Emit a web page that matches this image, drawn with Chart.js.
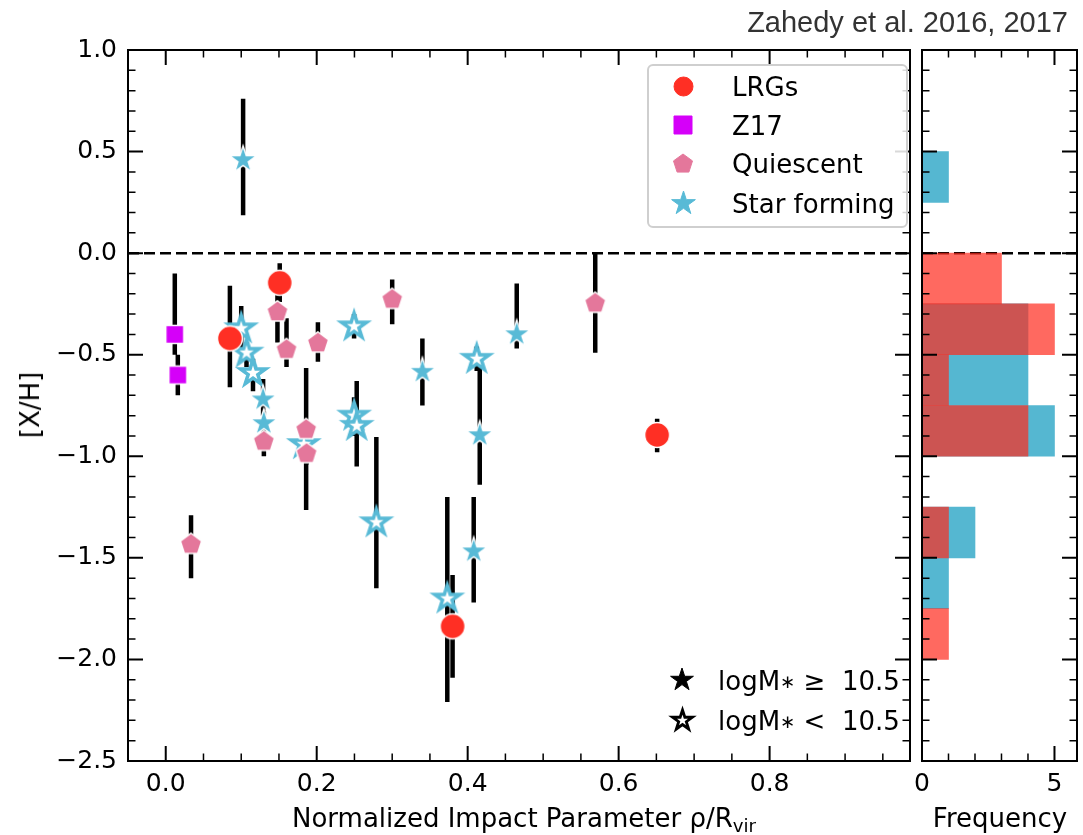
<!DOCTYPE html>
<html>
<head>
<meta charset="utf-8">
<script src="https://cdn.jsdelivr.net/npm/chart.js@4.4.1/dist/chart.umd.min.js"></script>
<style>
  body { margin: 0; background: #fff; }
  #wrap { position: relative; width: 1083px; height: 835px; overflow: hidden; font-family: "DejaVu Sans", sans-serif; color: #000; }
  #wrap canvas { position: absolute; top: 0; }
  .t { position: absolute; white-space: nowrap; line-height: 1; z-index: 3; }
  .mk { position: absolute; z-index: 3; }
  #legend { position: absolute; left: 647px; top: 64px; width: 257px; height: 160px; border: 2px solid #cfcfcf; border-radius: 6px; background: rgba(255,255,255,0.85); z-index: 2; }
</style>
</head>
<body>
<div id="wrap">
  <canvas id="main" width="921" height="835" style="left:0"></canvas>
  <canvas id="hist" width="183" height="835" style="left:900px"></canvas>
  <div id="legend"></div>
</div>
<script>
// ticks
const xTickVals = [0, 0.2, 0.4, 0.6, 0.8];
const xTickLabels = ['0.0', '0.2', '0.4', '0.6', '0.8'];
const yTickVals = [-2.5, -2, -1.5, -1, -0.5, 0, 0.5, 1];
const yTickLabels = ['−2.5', '−2.0', '−1.5', '−1.0', '−0.5', '0.0', '0.5', '1.0'];
const histTickVals = [0, 5];
const histTickLabels = ['0', '5'];

// LRGs
const lrgX = [0.085, 0.151, 0.380, 0.651];
const lrgY = [-0.42, -0.146, -1.837, -0.895];
const lrgLo = [-0.66, -0.24, -2.09, -0.98];
const lrgHi = [-0.16, -0.05, -1.585, -0.815];

// Z17
const z17X = [0.012, 0.016];
const z17Y = [-0.40, -0.60];
const z17Lo = [-0.50, -0.70];
const z17Hi = [-0.10, -0.50];

// quiescent
const qX = [0.148, 0.160, 0.2016, 0.130, 0.186, 0.1866, 0.0335, 0.300, 0.569];
const qY = [-0.29, -0.475, -0.443, -0.927, -0.869, -0.987, -1.434, -0.228, -0.247];
const qLo = [-0.44, -0.56, -0.535, -1.00, -1.265, -1.04, -1.60, -0.35, -0.49];
const qHi = [-0.14, -0.32, -0.34, -0.86, -0.566, -0.93, -1.29, -0.13, 0.0];

// star forming, logM >= 10.5 (filled)
const sfX = [0.1025, 0.129, 0.130, 0.340, 0.416, 0.465, 0.408];
const sfY = [0.458, -0.72, -0.837, -0.584, -0.896, -0.399, -1.468];
const sfLo = [0.187, -0.80, -0.92, -0.75, -1.14, -0.47, -1.72];
const sfHi = [0.76, -0.62, -0.78, -0.42, -0.56, -0.15, -1.20];

// star forming, logM < 10.5 (open)
const soX = [0.100, 0.107, 0.1156, 0.183, 0.2495, 0.2495, 0.253, 0.412, 0.279, 0.373];
const soY = [-0.37, -0.49, -0.59, -0.94, -0.36, -0.80, -0.85, -0.52, -1.325, -1.70];
const soLo = [-0.47, -0.56, -0.68, -1.00, -0.42, -0.90, -1.05, -0.58, -1.65, -2.21];
const soHi = [-0.26, -0.44, -0.52, -0.88, -0.30, -0.71, -0.63, -0.46, -0.905, -1.20];

// histogram (bins of 0.25 in [X/H])
const binCenters = [0.375, -0.125, -0.375, -0.625, -0.875, -1.125, -1.375, -1.625, -1.875];
const countsRed = [0, 3, 5, 1, 4, 0, 1, 0, 1];
const countsBlue = [1, 0, 4, 4, 5, 0, 2, 1, 0];

const RED = '#ff2f24', MAG = '#d500f9', PINK = '#e4779b', BLUE = '#58bad6';

function makeMarker(shape, fill, edge, edgeW, size) {
  const s = Math.ceil(size + edgeW * 2 + 6);
  const c = document.createElement('canvas');
  c.width = s; c.height = s;
  const g = c.getContext('2d');
  g.translate(s / 2, s / 2);
  g.beginPath();
  if (shape === 'circle') {
    g.arc(0, 0, size / 2, 0, Math.PI * 2);
  } else if (shape === 'square') {
    g.rect(-size / 2, -size / 2, size, size);
  } else {
    const star = shape === 'star';
    const n = star ? 10 : 5;
    const R = size / 2;
    for (let i = 0; i < n; i++) {
      const a = -Math.PI / 2 + i * Math.PI * 2 / n;
      const rr = star && i % 2 ? R * 0.382 : R;
      if (i === 0) g.moveTo(rr * Math.cos(a), rr * Math.sin(a));
      else g.lineTo(rr * Math.cos(a), rr * Math.sin(a));
    }
  }
  g.closePath();
  g.fillStyle = fill; g.fill();
  g.lineJoin = 'miter';
  g.lineWidth = edgeW; g.strokeStyle = edge; g.stroke();
  return c;
}

function errData(xs, lo, hi) {
  const out = [];
  xs.forEach((x, i) => { out.push({x: x, y: lo[i]}, {x: x, y: hi[i]}, {x: x, y: null}); });
  return out;
}
function pts(xs, ys) { return xs.map((x, i) => ({x: x, y: ys[i]})); }

function errSet(xs, lo, hi) {
  return { data: errData(xs, lo, hi), showLine: true, spanGaps: false, borderColor: '#000',
           borderWidth: 4.5, borderCapStyle: 'butt', pointRadius: 0, order: 10 };
}
function ptSet(label, xs, ys, img, order) {
  return { label: label, data: pts(xs, ys), pointStyle: img, pointRadius: 10, order: order };
}

function minors(from, to, step, majors) {
  const out = [];
  for (let v = from; v <= to + 1e-9; v += step) {
    const r = Math.round(v * 1000) / 1000;
    if (!majors.some(m => Math.abs(m - r) < 1e-6)) out.push(r);
  }
  return out;
}

function decor(cfg) {
  return {
    id: 'decor',
    beforeDatasetsDraw(chart) {
      const {ctx, chartArea: a} = chart;
      const y0 = chart.scales.y.getPixelForValue(0);
      ctx.save();
      ctx.strokeStyle = '#000'; ctx.lineWidth = 2.5; ctx.setLineDash([11, 5]);
      ctx.beginPath(); ctx.moveTo(a.left, y0); ctx.lineTo(a.right, y0); ctx.stroke();
      ctx.restore();
    },
    afterDraw(chart) {
      const {ctx, chartArea: a} = chart;
      const sx = chart.scales.x, sy = chart.scales.y;
      ctx.save();
      ctx.strokeStyle = '#000';
      const tick = (vals, len, w, axis) => {
        ctx.lineWidth = w;
        ctx.beginPath();
        vals.forEach(v => {
          if (axis === 'x') {
            const p = sx.getPixelForValue(v);
            ctx.moveTo(p, a.bottom); ctx.lineTo(p, a.bottom - len);
            ctx.moveTo(p, a.top); ctx.lineTo(p, a.top + len);
          } else {
            const p = sy.getPixelForValue(v);
            ctx.moveTo(a.left, p); ctx.lineTo(a.left + len, p);
            ctx.moveTo(a.right, p); ctx.lineTo(a.right - len, p);
          }
        });
        ctx.stroke();
      };
      tick(cfg.xMajor, 15, 2, 'x');
      tick(cfg.xMinor, 7.5, 1.5, 'x');
      tick(cfg.yMajor, 15, 2, 'y');
      tick(cfg.yMinor, 7.5, 1.5, 'y');
      ctx.lineWidth = 2;
      ctx.strokeRect(a.left, a.top, a.right - a.left, a.bottom - a.top);
      ctx.restore();
    }
  };
}

const tickFont = {family: 'DejaVu Sans', size: 25};
const yMinor = minors(-2.4, 0.9, 0.1, yTickVals);

new Chart(document.getElementById('main'), {
  type: 'scatter',
  data: {
    datasets: [
      errSet(lrgX, lrgLo, lrgHi),
      errSet(z17X, z17Lo, z17Hi),
      errSet(qX, qLo, qHi),
      errSet(sfX, sfLo, sfHi),
      errSet(soX, soLo, soHi),
      ptSet('LRGs', lrgX, lrgY, makeMarker('circle', RED, '#fff', 1.5, 25), 0),
      ptSet('Z17', z17X, z17Y, makeMarker('square', MAG, '#fff', 1.5, 18), 1),
      ptSet('Quiescent', qX, qY, makeMarker('pentagon', PINK, '#fff', 1.5, 22.5), 2),
      ptSet('Star forming', sfX, sfY, makeMarker('star', BLUE, '#fff', 1.5, 28.5), 3),
      ptSet('Star forming low mass', soX, soY, makeMarker('star', '#fff', BLUE, 3.5, 26.5), 4)
    ]
  },
  options: {
    responsive: false, animation: false, events: [],
    layout: {padding: {top: 50, right: 1, bottom: 0, left: 0}},
    plugins: {legend: {display: false}, tooltip: {enabled: false}},
    scales: {
      x: {
        type: 'linear', min: -0.05, max: 0.986,
        grid: {display: false, drawTicks: false}, border: {display: false},
        ticks: {color: '#000', font: tickFont, padding: 8, maxRotation: 0, autoSkip: false,
                callback: (v, i) => xTickLabels[i]},
        afterBuildTicks: s => { s.ticks = xTickVals.map(v => ({value: v})); },
        afterFit: s => { s.height = 74; }
      },
      y: {
        type: 'linear', min: -2.5, max: 1.0,
        grid: {display: false, drawTicks: false}, border: {display: false},
        ticks: {color: '#000', font: tickFont, padding: 11, autoSkip: false,
                callback: (v, i) => yTickLabels[i]},
        afterBuildTicks: s => { s.ticks = yTickVals.map(v => ({value: v})); },
        afterFit: s => { s.width = 128; }
      }
    }
  },
  plugins: [decor({xMajor: xTickVals, xMinor: minors(0.05, 0.95, 0.05, xTickVals),
                   yMajor: yTickVals, yMinor: yMinor})]
});

new Chart(document.getElementById('hist'), {
  type: 'bar',
  data: {
    datasets: [
      {data: binCenters.map((c, i) => ({x: countsRed[i], y: c})), backgroundColor: 'rgba(255,41,29,0.7)',
       grouped: false, barPercentage: 1, categoryPercentage: 1, borderWidth: 0, order: 0},
      {data: binCenters.map((c, i) => ({x: countsBlue[i], y: c})), backgroundColor: '#55b7d1',
       grouped: false, barPercentage: 1, categoryPercentage: 1, borderWidth: 0, order: 1}
    ]
  },
  options: {
    indexAxis: 'y', responsive: false, animation: false, events: [],
    layout: {padding: {top: 50, right: 6, bottom: 0, left: 22}},
    plugins: {legend: {display: false}, tooltip: {enabled: false}},
    scales: {
      y: {
        type: 'linear', min: -2.5, max: 1.0, display: false, offset: false,
        afterBuildTicks: s => { s.ticks = yTickVals.map(v => ({value: v})); }
      },
      x: {
        type: 'linear', min: 0, max: 5.85, position: 'bottom', offset: false,
        grid: {display: false, drawTicks: false}, border: {display: false},
        ticks: {color: '#000', font: tickFont, padding: 8, maxRotation: 0, autoSkip: false,
                callback: (v, i) => histTickLabels[i]},
        afterBuildTicks: s => { s.ticks = histTickVals.map(v => ({value: v})); },
        afterFit: s => { s.height = 74; }
      }
    }
  },
  plugins: [decor({xMajor: histTickVals, xMinor: [1, 2, 3, 4], yMajor: yTickVals, yMinor: yMinor})]
});

// text and legend overlay
const wrap = document.getElementById('wrap');
function putText(html, x, base, size, align, extra) {
  const d = document.createElement('div');
  d.className = 't';
  d.innerHTML = html;
  d.style.fontSize = size + 'px';
  d.style.left = x + 'px';
  d.style.top = (base - 0.846 * size) + 'px';
  if (align === 'right') d.style.transform = 'translateX(-100%)';
  if (align === 'center') d.style.transform = 'translateX(-50%)';
  if (extra) Object.assign(d.style, extra);
  wrap.appendChild(d);
  return d;
}
function putMarker(c, cx, cy) {
  c.className = 'mk';
  c.style.left = (cx - c.width / 2) + 'px';
  c.style.top = (cy - c.height / 2) + 'px';
  wrap.appendChild(c);
}

putText('Zahedy et al. 2016, 2017', 1068, 33, 29, 'right', {fontFamily: '"Liberation Sans", sans-serif', color: '#333'});
putText('Normalized Impact Parameter ρ/R<span style="font-size:70%;position:relative;top:0.3em">vir</span>', 524, 827, 26, 'center');
putText('Frequency', 1000, 827, 26, 'center');
const yl = putText('[X/H]', 30, 0, 26, null);
yl.style.top = '405px';
yl.style.transform = 'translate(-50%,-50%) rotate(-90deg)';

const legendRows = [
  {label: 'LRGs', mk: makeMarker('circle', RED, RED, 0, 19), y: 86},
  {label: 'Z17', mk: makeMarker('square', MAG, MAG, 0, 18), y: 125},
  {label: 'Quiescent', mk: makeMarker('pentagon', PINK, PINK, 0, 20), y: 163.5},
  {label: 'Star forming', mk: makeMarker('star', BLUE, BLUE, 0, 25), y: 203}
];
legendRows.forEach(r => {
  putMarker(r.mk, 683, r.y);
  putText(r.label, 732, r.y + 9.5, 26, null);
});

putMarker(makeMarker('star', '#000', '#000', 0, 24), 682, 680);
putMarker(makeMarker('star', '#fff', '#000', 2.8, 21), 682, 720);
putText('logM<span style="font-size:70%;position:relative;top:-0.1em">∗</span> ≥&nbsp; 10.5', 718, 690, 26, null);
putText('logM<span style="font-size:70%;position:relative;top:-0.1em">∗</span> &lt;&nbsp; 10.5', 718, 730, 26, null);
</script>
</body>
</html>
